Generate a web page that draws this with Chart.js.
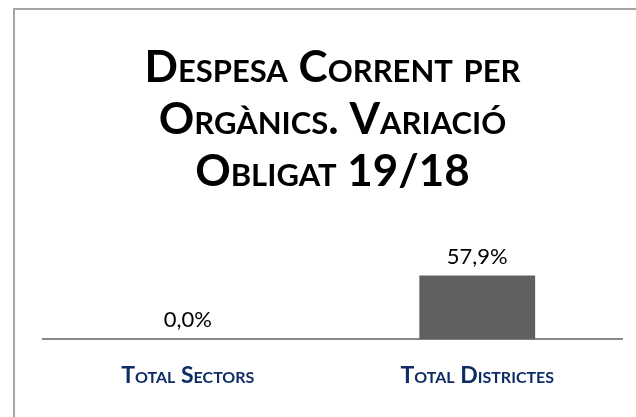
<!DOCTYPE html>
<html>
<head>
<meta charset="utf-8">
<script src="https://cdn.jsdelivr.net/npm/chart.js@4"></script>
<style>
    body { margin: 0; background: #fff; overflow: hidden; }
    #frame { position: absolute; left: 13px; top: 8px; width: 700px; height: 500px; border: 2px solid #a6a6a6; }
    #wrap { position: absolute; left: 0; top: 0; width: 636px; height: 417px; }
</style>
</head>
<body>
<div id="frame"></div>
<div id="wrap"><canvas id="chart"></canvas></div>
<script>
const titleLines = ['Despesa Corrent per', 'Orgànics. Variació', 'Obligat 19/18'];
const categories = ['Total Sectors', 'Total Districtes'];
const variation = [0.0, 57.9];

// value labels above each bar, comma decimals like the original
const valueLabels = {
    id: 'valueLabels',
    afterDatasetsDraw(chart) {
        const ctx = chart.ctx;
        const meta = chart.getDatasetMeta(0);
        ctx.save();
        ctx.font = '22px Lato';
        ctx.fillStyle = '#000';
        ctx.textAlign = 'center';
        ctx.textBaseline = 'bottom';
        meta.data.forEach((bar, i) => {
            const txt = variation[i].toFixed(1).replace('.', ',') + '%';
            ctx.fillText(txt, bar.x, bar.y - 8);
        });
        ctx.restore();
    }
};

const ctx = document.getElementById('chart').getContext('2d');
new Chart(ctx, {
    type: 'bar',
    data: {
        labels: categories,
        datasets: [{
            data: variation,
            backgroundColor: '#606060',
            barPercentage: 0.4,
            categoryPercentage: 1
        }]
    },
    options: {
        responsive: true,
        maintainAspectRatio: false,
        animation: false,
        layout: { padding: { left: 43, right: 14, top: 42, bottom: 14 } },
        plugins: {
            legend: { display: false },
            tooltip: { enabled: false },
            title: {
                display: true,
                text: titleLines,
                color: '#000',
                font: { family: 'Lato', size: 44, weight: 'small-caps bold', lineHeight: 1.18 },
                padding: { top: 0, bottom: 22 }
            }
        },
        scales: {
            x: {
                grid: { display: false },
                border: { color: '#898989', width: 2 },
                ticks: {
                    color: '#0e2c66',
                    padding: 14,
                    font: { family: 'Lato', size: 23, weight: 'small-caps bold' }
                }
            },
            y: {
                display: false,
                min: 0,
                max: 108.5
            }
        }
    },
    plugins: [valueLabels]
});
</script>
</body>
</html>
